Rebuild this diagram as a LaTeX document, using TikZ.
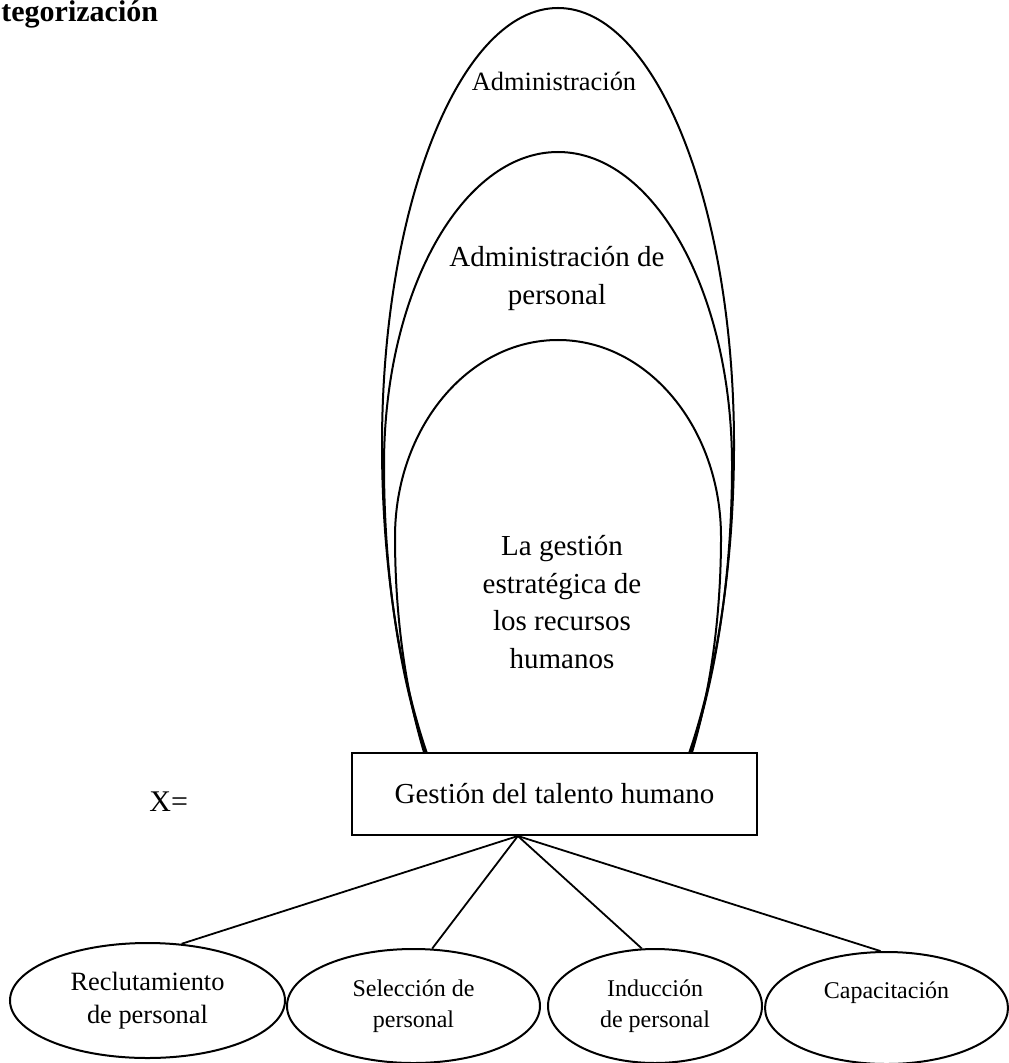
\documentclass[tikz,border=0pt]{standalone}
\usepackage{fontspec}
\setmainfont{Liberation Serif}
\usetikzlibrary{shapes.geometric,calc}
\begin{document}
\begin{tikzpicture}[x=0.5pt,y=-0.5pt,
  egg/.style={line width=1pt},
  lbl/.style={inner sep=0pt, align=center},
  bubble/.style={draw, ellipse, line width=1pt, inner sep=0pt, align=center},
  link/.style={line width=0.9pt},
  mainbox/.style={draw, line width=1pt, fill=white, inner sep=0pt,
    minimum width=202.5pt, minimum height=41pt},
]
\useasboundingbox (0,0) rectangle (1008,1063);

% heading at the upper left
\node[font=\fontsize{15}{18}\selectfont\bfseries, anchor=base west, inner sep=0pt]
  (cat) at (1,22) {tegorización};

% three nested egg shapes standing on the box
\begin{scope}
  \clip (0,0) rectangle (1008,753);
  \draw[egg] (382,445) arc[start angle=180,end angle=360,x radius=176,y radius=437]
                       arc[start angle=0,end angle=180,x radius=176,y radius=462];
  \draw[egg] (384,465) arc[start angle=180,end angle=360,x radius=174,y radius=313]
                       arc[start angle=0,end angle=180,x radius=174,y radius=444];
  \draw[egg] (395,537) arc[start angle=180,end angle=360,x radius=163,y radius=197]
                       arc[start angle=0,end angle=180,x radius=163,y radius=378];
\end{scope}

\node[lbl, font=\fontsize{13.2}{16}\selectfont, anchor=base] (admin) at (554,91) {Administración};
\node[lbl, font=\fontsize{14.5}{19}\selectfont] (adminp) at (557,279) {Administración de\\personal};
\node[lbl, font=\fontsize{14.5}{18.75}\selectfont] (gestion) at (562,602)
  {La gestión\\estratégica de\\los recursos\\humanos};

% central box
\node[mainbox, font=\fontsize{14.5}{18}\selectfont] (gth) at (554.5,794) {Gestión del talento humano};
\node[font=\fontsize{15}{18}\selectfont, anchor=base west, inner sep=0pt] (xeq) at (149,811) {X=};

\coordinate (apex) at ($(gth.south west)!0.41!(gth.south east)$);

% dimensions
\node[bubble, minimum width=137.5pt, minimum height=57.5pt, font=\fontsize{13.2}{16.5}\selectfont]
  (rec) at (147.5,1000.5) {Reclutamiento\\de personal};
\node[bubble, minimum width=126.5pt, minimum height=57pt, font=\fontsize{12}{15.5}\selectfont]
  (sel) at (413.5,1006) {Selección de\\personal};
\node[bubble, minimum width=107pt, minimum height=57pt, font=\fontsize{12}{15.5}\selectfont]
  (ind) at (655,1006) {Inducción\\de personal};
\node[bubble, minimum width=121.5pt, minimum height=56pt] (cap) at (886.5,1008) {};
\node[lbl, font=\fontsize{12}{15.5}\selectfont, anchor=base] (captxt) at (886.5,998) {Capacitación};

\draw[link] (apex) -- (rec.59);
\draw[link] (apex) -- (sel.72);
\draw[link] (apex) -- (ind.103);
\draw[link] (apex) -- (cap.96);
\end{tikzpicture}
\end{document}
